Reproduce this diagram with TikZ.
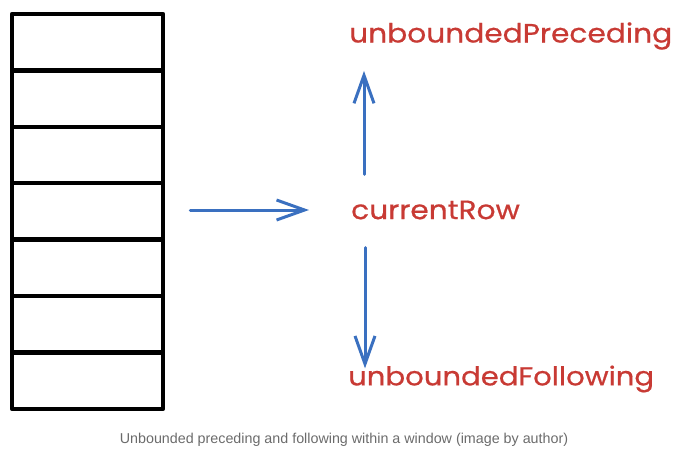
\documentclass[tikz,border=0pt]{standalone}
\usepackage{fontspec}
\usetikzlibrary{arrows.meta}
\newfontfamily\sketchfont[FakeStretch=1.12,FakeBold=0.6]{Poppins}
\newfontfamily\captionfont{Liberation Sans}
\definecolor{sketchred}{RGB}{200,58,52}
\definecolor{sketchblue}{RGB}{58,112,192}
\definecolor{captiongray}{RGB}{107,107,107}

\begin{document}
\begin{tikzpicture}
[
x=1pt,y=-1pt,
row/.style={draw,line width=4.5pt,line join=round,minimum width=151pt,minimum height=56.4pt,inner sep=0pt},
word/.style={text=sketchred,font=\sketchfont\fontsize{26.5}{30}\selectfont,inner sep=0pt,anchor=west},
flow/.style={draw=sketchblue,line width=3pt,line cap=round,-{Straight Barb[length=28pt,width=20pt,line width=3pt]}},
]
\useasboundingbox (0,0) rectangle (680,451);

%Place the nodes
\node[row] (r1) at (87.5,42.2) {};
\node[row] (r2) at (87.5,98.6) {};
\node[row] (r3) at (87.5,155.0) {};
\node[row] (r4) at (87.5,211.4) {};
\node[row] (r5) at (87.5,267.8) {};
\node[row] (r6) at (87.5,324.2) {};
\node[row] (r7) at (87.5,380.6) {};
\node[word] (cur) at (351,210) {currentRow};
\node[word] (prec) at (349,36) {unboundedPreceding};
\node[word,font=\sketchfont\fontsize{26}{30}\selectfont] (foll) at (348,379) {unboundedFollowing};
\node[text=captiongray,font=\captionfont\fontsize{14.3}{16}\selectfont] (cap) at (344,440) {Unbounded preceding and following within a window (image by author)};

%Draw the connections
\draw[flow,shorten <=25pt,shorten >=42pt] (r4.east |- cur.west) -- (cur.west);
\draw[flow,shorten <=26pt,shorten >=21pt] ([xshift=13pt]cur.north west) -- ([xshift=13pt]cur.north west |- prec.south);
\draw[flow,shorten <=28pt,shorten >=-3pt] ([xshift=14pt]cur.south west) -- ([xshift=14pt]cur.south west |- foll.north);
\end{tikzpicture}
\end{document}
